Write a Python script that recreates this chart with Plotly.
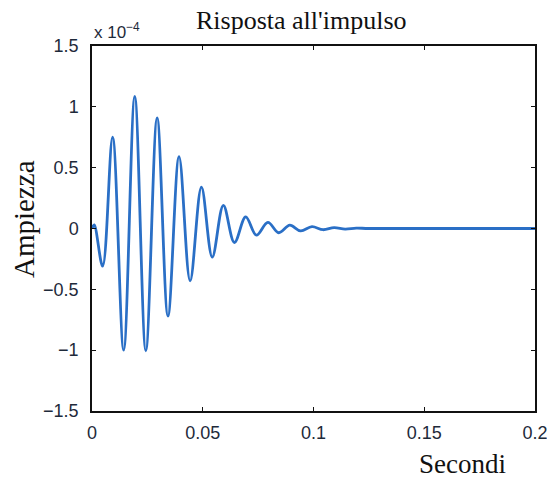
import plotly.graph_objects as go

# Impulse response: times (s) of the turning points and their amplitudes (x 1e-4)
t_s = [0.0, 0.0010, 0.0048, 0.0093, 0.0143, 0.0193, 0.0243, 0.0294, 0.0343,
       0.0393, 0.0443, 0.0494, 0.0543, 0.0593, 0.0643, 0.0694, 0.0742, 0.0794,
       0.0843, 0.0893, 0.0942, 0.0993, 0.1043, 0.1093, 0.1143, 0.1193, 0.1250, 0.2000]
amp_e4 = [0.0, 0.03, -0.31, 0.75, -1.0, 1.085, -1.005, 0.91, -0.72,
          0.59, -0.43, 0.34, -0.235, 0.19, -0.115, 0.095, -0.055, 0.05,
          -0.035, 0.027, -0.02, 0.015, -0.01, 0.007, -0.005, 0.003, 0.0, 0.0]

x_ticks = [0, 0.05, 0.1, 0.15, 0.2]
x_tick_text = ["0", "0.05", "0.1", "0.15", "0.2"]
y_ticks = [-1.5, -1, -0.5, 0, 0.5, 1, 1.5]
y_tick_text = ["\u22121.5", "\u22121", "\u22120.5", "0", "0.5", "1", "1.5"]

serif = "Liberation Serif, Times New Roman, serif"
sans = "Liberation Sans, Arial, sans-serif"

fig = go.Figure()
fig.add_trace(go.Scatter(
    x=t_s, y=amp_e4, mode="lines",
    line=dict(color="#2a6fc6", width=2.8, shape="spline", smoothing=1.0),
    showlegend=False, hoverinfo="skip",
))

axis_common = dict(
    showgrid=False, zeroline=False, showline=True, linecolor="#111111",
    linewidth=1.5, mirror="ticks", ticks="inside", ticklen=4, tickwidth=1,
    tickcolor="#111111", automargin=False, ticklabeloverflow="allow",
    tickfont=dict(family=sans, size=18, color="#1e2a3a"),
)

fig.update_layout(
    width=547, height=479,
    margin=dict(l=92, r=12, t=46, b=68),
    paper_bgcolor="white", plot_bgcolor="white",
    xaxis=dict(range=[0, 0.2], tickvals=x_ticks, ticktext=x_tick_text,
               ticklabelstandoff=5, **axis_common),
    yaxis=dict(range=[-1.5, 1.5], tickvals=y_ticks, ticktext=y_tick_text,
               ticklabelstandoff=8, **axis_common),
    annotations=[
        dict(text="Risposta all'impulso", xref="paper", yref="paper",
             x=0.474, y=1.0, yshift=26, xanchor="center", yanchor="middle",
             showarrow=False, font=dict(family=serif, size=26, color="#111111")),
        dict(text="x 10<sup>\u22124</sup>", xref="paper", yref="paper",
             x=0.0, y=1.0, yshift=15, xanchor="left", yanchor="middle",
             showarrow=False, font=dict(family=sans, size=17, color="#1e2a3a")),
        dict(text="Secondi", xref="paper", yref="paper",
             x=0.837, y=0.0, yshift=-53, xanchor="center", yanchor="middle",
             showarrow=False, font=dict(family=serif, size=27, color="#111111")),
        dict(text="Ampiezza", xref="paper", yref="paper",
             x=0.0, xshift=-68, y=0.526, xanchor="center", yanchor="middle",
             textangle=-90, showarrow=False,
             font=dict(family=serif, size=29, color="#111111")),
    ],
)

fig.write_html("out.html")
